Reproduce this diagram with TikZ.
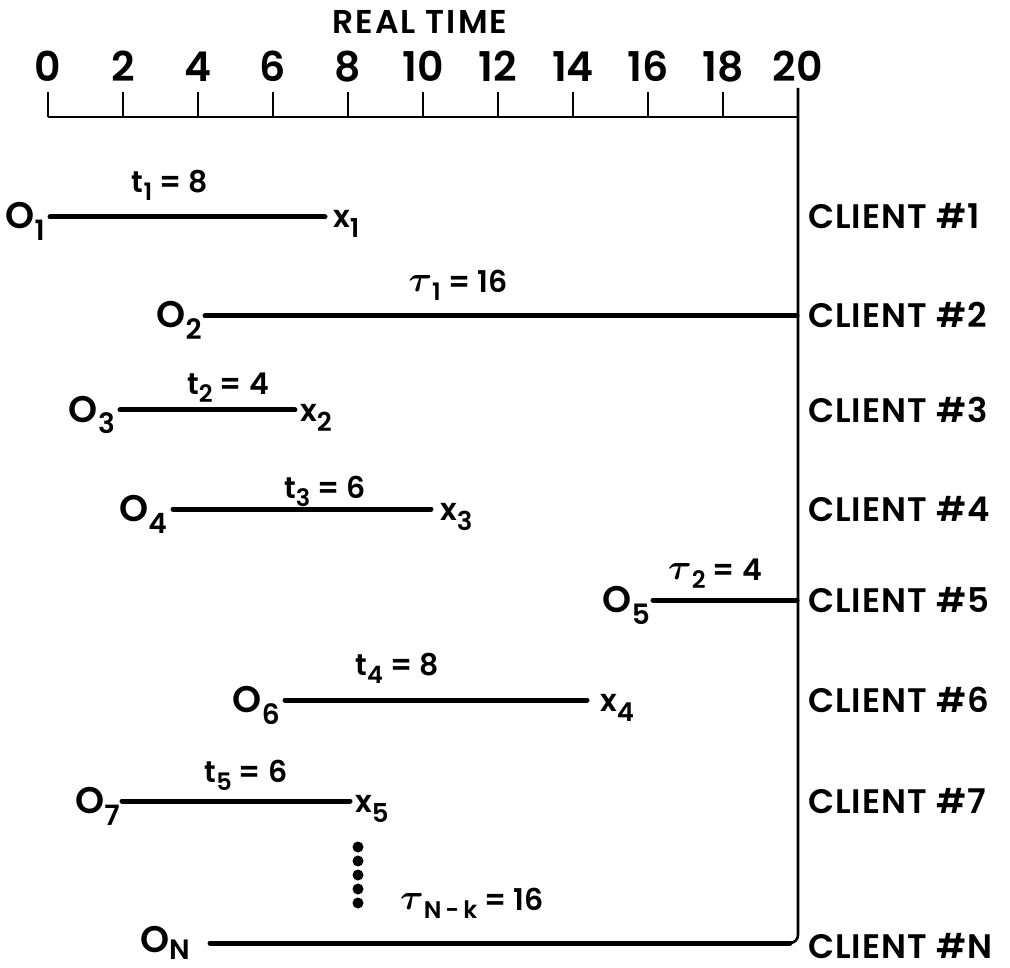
\documentclass[tikz,border=0pt]{standalone}
\usepackage{fontspec}
\usepackage{amsmath}
\usepackage{bm}
\usepackage{graphicx}
\setmainfont{Poppins}[UprightFont={* SemiBold}]
% lowered indices in three sizes
\newcommand{\osub}[1]{\raisebox{-12pt}{\fontsize{28}{30}\selectfont #1}}
\newcommand{\xsub}[1]{\raisebox{-10pt}{\fontsize{26}{28}\selectfont #1}}
\newcommand{\tsub}[1]{\raisebox{-8pt}{\fontsize{24}{26}\selectfont #1}}
\newcommand{\tauch}{\raisebox{1pt}{\scalebox{1.45}{$\bm{\tau}$}}}
\begin{document}
\begin{tikzpicture}[x=1pt,y=-1pt,
  seg/.style={line width=5pt, line cap=round},
  rule/.style={line width=2.6pt},
  onode/.style={font=\fontsize{37}{39}\selectfont, inner sep=0pt, anchor=base east},
  xnode/.style={font=\fontsize{31}{33}\selectfont, inner sep=0pt, anchor=base west},
  dur/.style={font=\fontsize{30}{32}\selectfont, inner sep=0pt, anchor=base},
  client/.style={font=\fontsize{34}{36}\selectfont\addfontfeature{LetterSpace=3}, inner sep=0pt, anchor=base west},
  ticklabel/.style={font=\fontsize{41}{43}\selectfont, inner sep=0pt, anchor=base},
  dotmark/.style={circle, fill, inner sep=0pt, minimum size=11pt}]
\path[use as bounding box] (0,0) rectangle (1010,968);

% time axis
\node[font=\fontsize{33}{35}\selectfont\addfontfeature{LetterSpace=6}, inner sep=0pt, anchor=base] (title) at (420,34) {REAL TIME};
\coordinate (a0) at (48,117);
\coordinate (a20) at (798,117);
\draw[rule] (a0) -- (a20);
\foreach \i in {0,...,9}{
  \coordinate (tk\i) at (48+75*\i,117);
  \coordinate (tt\i) at (48+75*\i,92);
  \draw[rule] (tk\i) -- (tt\i);
}
\foreach \i/\v in {0/0,1/2,2/4,3/6,4/8,5/10,6/12,7/14,8/16,9/18,10/20}{
  \node[ticklabel] (n\i) at (48+75*\i,82) {\v};
}
% right-hand bound at time 20
\coordinate (vtop) at (798,88);
\coordinate (vbot) at (798,943);
\coordinate (vend) at (786,943);
\draw[rule, rounded corners=8pt] (vtop) -- (vbot) -- (vend);

% client 1
\coordinate (s1) at (50,217);  \coordinate (e1) at (325,217);
\node[onode] (o1) at (45,229) {O\osub{1}};
\node[xnode] (x1) at (333,228) {x\xsub{1}};
\node[dur] (d1) at (170,193) {t\tsub{1} = 8};
\draw[seg] (s1) -- (e1);
\node[client] (c1) at (808,229) {CLIENT \#1};

% client 2
\coordinate (s2) at (205,316);  \coordinate (e2) at (797,316);
\node[onode] (o2) at (202,328) {O\osub{2}};
\node[dur] (d2) at (458,293) {\tauch\tsub{1} = 16};
\draw[seg] (s2) -- (e2);
\node[client] (c2) at (808,328) {CLIENT \#2};

% client 3
\coordinate (s3) at (120,410);  \coordinate (e3) at (295,410);
\node[onode] (o3) at (115,422) {O\osub{3}};
\node[xnode] (x2) at (300,421) {x\xsub{2}};
\node[dur] (d3) at (228,395) {t\tsub{2} = 4};
\draw[seg] (s3) -- (e3);
\node[client] (c3) at (808,422) {CLIENT \#3};

% client 4
\coordinate (s4) at (173,509);  \coordinate (e4) at (431,509);
\node[onode] (o4) at (167,521) {O\osub{4}};
\node[xnode] (x3) at (440,520) {x\xsub{3}};
\node[dur] (d4) at (325,498) {t\tsub{3} = 6};
\draw[seg] (s4) -- (e4);
\node[client] (c4) at (808,521) {CLIENT \#4};

% client 5
\coordinate (s5) at (653,600);  \coordinate (e5) at (797,600);
\node[onode] (o5) at (650,612) {O\osub{5}};
\node[dur] (d5) at (715,580) {\tauch\tsub{2} = 4};
\draw[seg] (s5) -- (e5);
\node[client] (c5) at (808,612) {CLIENT \#5};

% client 6
\coordinate (s6) at (285,700);  \coordinate (e6) at (587,700);
\node[onode] (o6) at (280,712) {O\osub{6}};
\node[xnode] (x4) at (600,711) {x\xsub{4}};
\node[dur] (d6) at (397,675) {t\tsub{4} = 8};
\draw[seg] (s6) -- (e6);
\node[client] (c6) at (808,712) {CLIENT \#6};

% client 7
\coordinate (s7) at (122,801);  \coordinate (e7) at (350,801);
\node[onode] (o7) at (120,813) {O\osub{7}};
\node[xnode] (x5) at (355,812) {x\xsub{5}};
\node[dur] (d7) at (246,782) {t\tsub{5} = 6};
\draw[seg] (s7) -- (e7);
\node[client] (c7) at (808,813) {CLIENT \#7};

% ellipsis
\foreach \k in {0,...,4}{
  \node[dotmark] (dot\k) at (358,847+14*\k) {};
}

% client N
\coordinate (sN) at (210,943);  \coordinate (eN) at (790,943);
\node[onode] (oN) at (190,952) {O\raisebox{-7pt}{\fontsize{28}{30}\selectfont N}};
\node[dur] (dN) at (472,910) {\tauch\tsub{N\,-\,k} = 16};
\draw[seg] (sN) -- (eN);
\node[client] (cN) at (808,958) {CLIENT \#N};
\end{tikzpicture}
\end{document}
